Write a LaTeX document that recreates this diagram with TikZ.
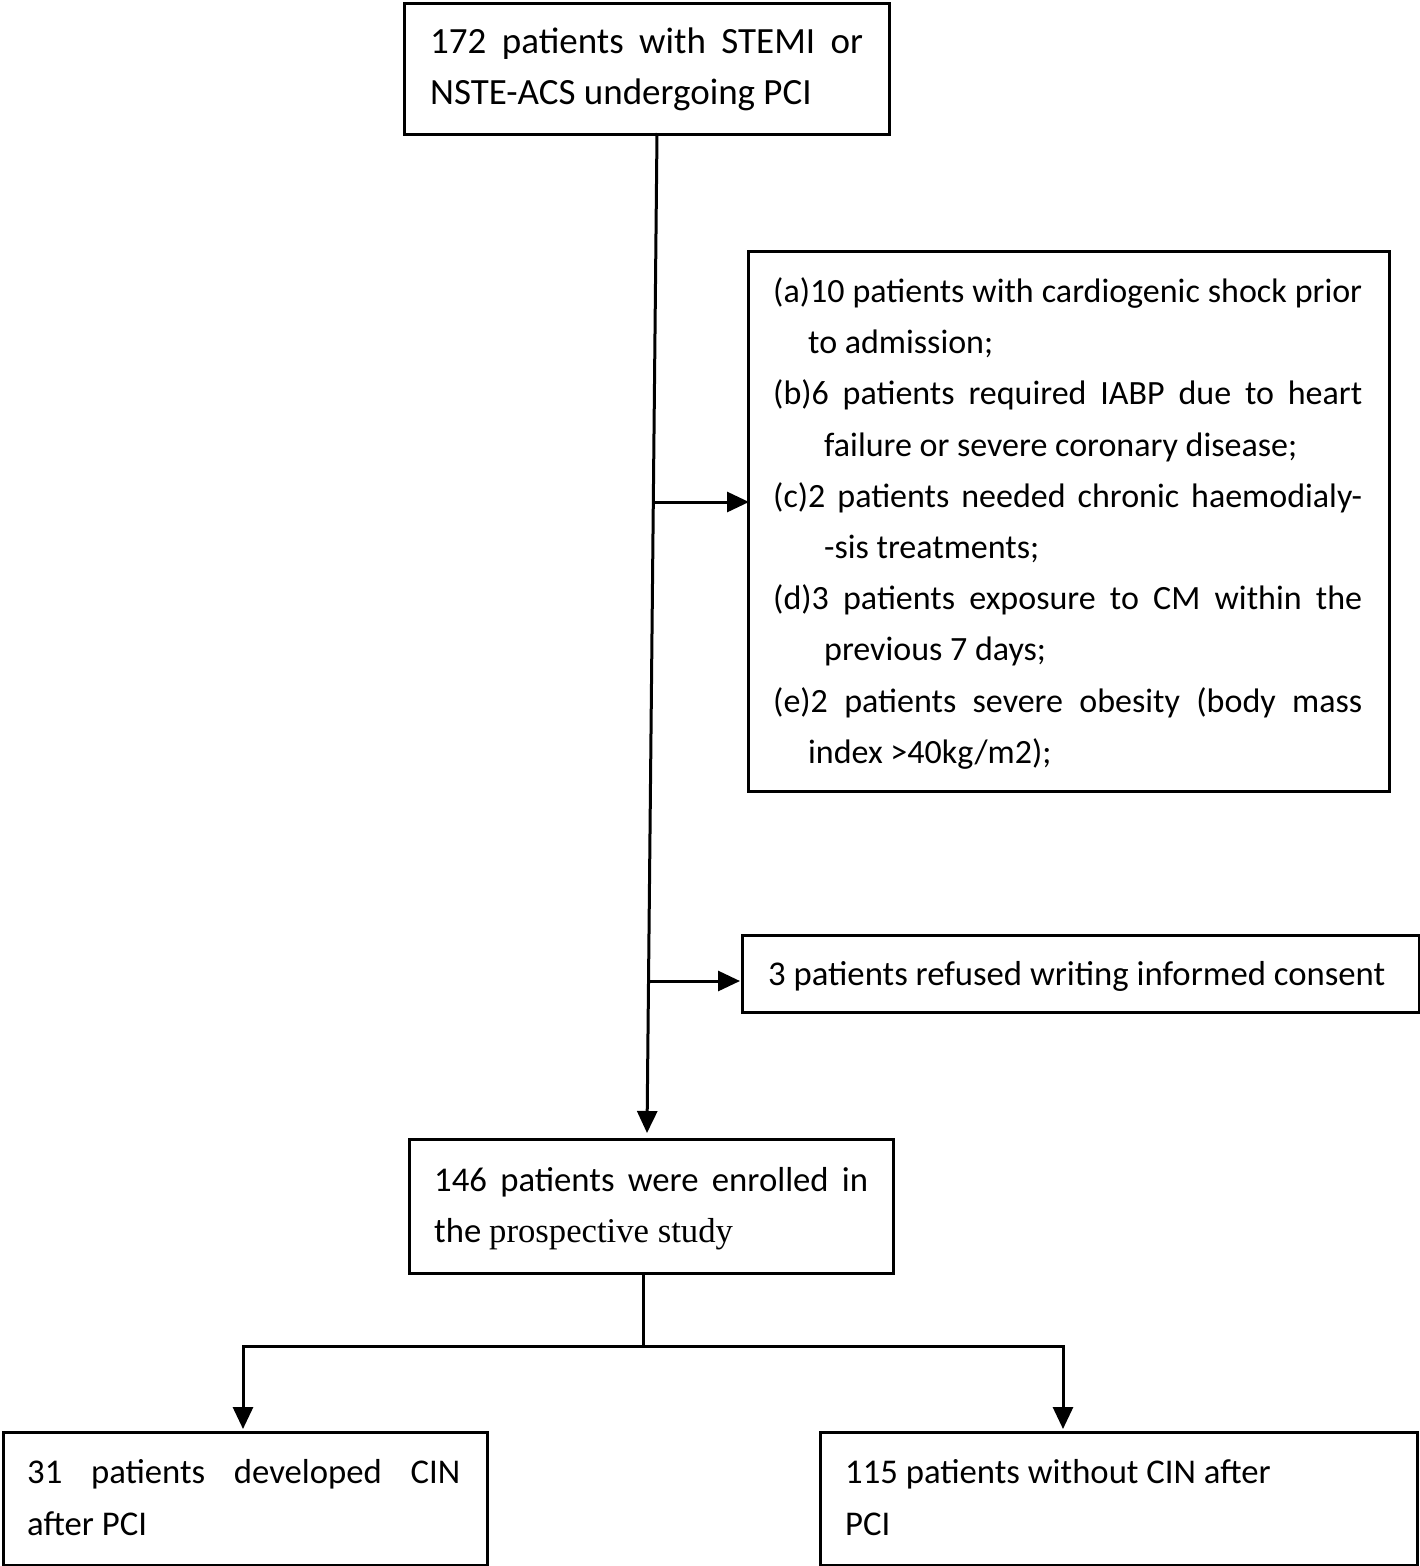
\documentclass[tikz,border=0pt]{standalone}
\usepackage{fontspec}
\setmainfont{Carlito}
\newfontfamily\seriffont{Liberation Serif}
\usetikzlibrary{arrows.meta}
\begin{document}
\begin{tikzpicture}[x=1pt,y=-1pt,
  box/.style={draw,line width=3pt,inner sep=0pt,anchor=north west},
  txt/.style={anchor=base west,inner sep=0pt,font=\fontsize{34.7}{40}\selectfont},
  exctxt/.style={anchor=base west,inner sep=0pt,font=\fontsize{34}{40}\selectfont},
  bigtxt/.style={anchor=base west,inner sep=0pt,font=\fontsize{37}{42}\selectfont},
  conn/.style={line width=3pt,-{Triangle[length=22pt,width=20pt]}}]
\useasboundingbox (0,0) rectangle (1420,1566);

% boxes
\node[box,minimum width=485pt,minimum height=131pt] (top) at (403,2) {};
\node[box,minimum width=641pt,minimum height=540pt] (exc) at (747,250) {};
\node[box,minimum width=677pt,minimum height=77pt] (ref) at (741,934) {};
\node[box,minimum width=484pt,minimum height=134pt] (enr) at (408,1138) {};
\node[box,minimum width=484pt,minimum height=133pt] (cin) at (2,1431) {};
\node[box,minimum width=597pt,minimum height=133pt] (nocin) at (819,1431) {};

% texts
\node[bigtxt] (t1) at (430,53) {\makebox[433pt][s]{172 patients with STEMI or}};
\node[bigtxt] (t2) at (430,104) {NSTE-ACS undergoing PCI};

\node[exctxt] (e1) at (773,302) {\makebox[589pt][s]{(a)10 patients with cardiogenic shock prior}};
\node[exctxt] (e2) at (808,353) {to admission;};
\node[exctxt] (e3) at (773,404) {\makebox[589pt][s]{(b)6 patients required IABP due to heart}};
\node[exctxt] (e4) at (824,456) {failure or severe coronary disease;};
\node[exctxt] (e5) at (773,507) {\makebox[589pt][s]{(c)2 patients needed chronic haemodialy-}};
\node[exctxt] (e6) at (824,558) {-sis treatments;};
\node[exctxt] (e7) at (773,609) {\makebox[589pt][s]{(d)3 patients exposure to CM within the}};
\node[exctxt] (e8) at (824,660) {previous 7 days;};
\node[exctxt] (e9) at (773,712) {\makebox[589pt][s]{(e)2 patients severe obesity (body mass}};
\node[exctxt] (e10) at (808,763) {index >40kg/m2);};

\node[txt] (r1) at (768,985) {3 patients refused writing informed consent};

\node[txt] (n1) at (434,1191) {\makebox[434pt][s]{146 patients were enrolled in}};
\node[txt] (n2) at (434,1242) {the {\seriffont prospective study}};

\node[txt] (c1) at (27,1483) {\makebox[433pt][s]{31 patients developed CIN}};
\node[txt] (c2) at (27,1535) {after PCI};

\node[txt] (d1) at (845,1483) {115 patients without CIN after};
\node[txt] (d2) at (845,1535) {PCI};

% connectors
\coordinate (m0) at (657,133);
\coordinate (m1) at (647,1133);
\coordinate (h1) at (653,502);
\coordinate (h1e) at (749,502);
\coordinate (h2) at (648,981);
\coordinate (h2e) at (740,981);
\coordinate (s0) at (643,1272);
\coordinate (s1) at (643,1346);
\coordinate (sl) at (243,1346);
\coordinate (sr) at (1063,1346);
\coordinate (sle) at (243,1429);
\coordinate (sre) at (1063,1429);

\draw[conn] (m0) -- (m1);
\draw[conn] (h1) -- (h1e);
\draw[conn] (h2) -- (h2e);
\draw[line width=3pt] (s0) -- (s1);
\draw[line width=3pt,{Triangle[length=22pt,width=20pt]}-{Triangle[length=22pt,width=20pt]}] (sle) -- (sl) -- (sr) -- (sre);
\end{tikzpicture}
\end{document}
